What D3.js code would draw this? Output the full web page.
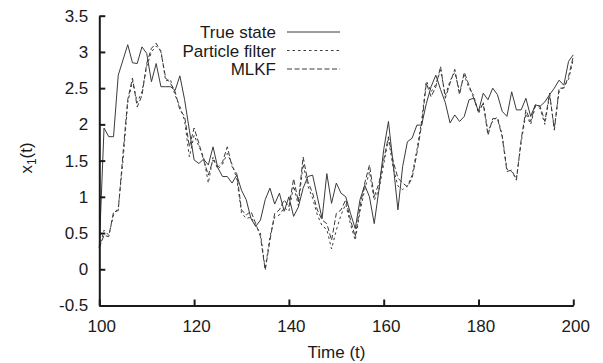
<!DOCTYPE html>
<html>
<head>
<meta charset="utf-8">
<script src="https://cdn.jsdelivr.net/npm/d3@7"></script>
<style>
  body { margin: 0; background: #fff; }
  svg { display: block; font-family: "Liberation Sans", Arial, sans-serif; }
  .axis text { font-size: 17px; fill: #1a1a1a; }
  .axis path, .axis line { stroke: #1a1a1a; stroke-width: 2; }
</style>
</head>
<body>
<div class="chart"></div>
<script>
var tStart = 100, tEnd = 200;

var trueState = [
  0.30, 1.95, 1.83, 1.83, 2.68, 2.89, 3.10, 2.85, 2.84, 3.07,
  2.98, 2.59, 2.84, 2.52, 2.52, 2.52, 2.47, 2.67, 2.34, 1.92,
  1.51, 1.46, 1.52, 1.44, 1.69, 1.40, 1.28, 1.28, 1.19, 1.30,
  1.09, 0.96, 0.70, 0.59, 0.68, 0.96, 1.12, 0.90, 1.05, 0.80,
  1.00, 0.73, 0.86, 1.12, 1.28, 1.30, 1.00, 0.70, 1.32, 0.91,
  1.19, 1.05, 1.00, 0.77, 0.56, 0.96, 1.16, 1.00, 0.63, 1.10,
  1.65, 2.04, 1.45, 0.82, 1.42, 1.76, 1.81, 1.99, 1.99, 2.29,
  2.52, 2.68, 2.48, 2.30, 2.02, 2.13, 2.04, 2.11, 2.34, 2.36,
  2.18, 2.43, 2.34, 2.50, 2.41, 2.18, 2.11, 2.45, 2.20, 2.20,
  2.36, 2.11, 2.27, 2.25, 2.31, 2.41, 2.50, 2.61, 2.54, 2.87,
  2.96
];

var particleFilter = [
  0.30, 0.54, 0.47, 0.75, 0.85, 1.50, 2.30, 2.60, 2.30, 2.45,
  2.80, 3.00, 3.08, 3.02, 2.60, 2.62, 2.40, 2.25, 2.05, 1.55,
  1.85, 1.70, 1.55, 1.19, 1.55, 1.38, 1.45, 1.60, 1.45, 1.25,
  0.78, 0.70, 0.72, 0.60, 0.50, 0.00, 0.45, 0.72, 0.75, 0.85,
  0.80, 1.15, 0.88, 1.45, 1.15, 0.98, 0.75, 0.60, 0.55, 0.28,
  0.54, 0.75, 0.90, 0.62, 0.40, 0.80, 1.10, 1.35, 0.95, 1.10,
  1.45, 1.80, 1.40, 1.15, 1.10, 1.15, 1.30, 1.65, 2.05, 2.60,
  2.45, 2.55, 2.75, 2.40, 2.60, 2.72, 2.45, 2.68, 2.50, 2.40,
  2.15, 2.30, 1.90, 2.05, 2.10, 1.85, 1.38, 1.35, 1.25, 1.75,
  2.15, 2.00, 2.25, 2.22, 2.00, 2.40, 1.95, 2.45, 2.52, 2.62,
  2.90
];

var mlkf = [
  0.30, 0.47, 0.45, 0.79, 0.81, 1.60, 2.34, 2.64, 2.24, 2.40,
  2.84, 3.05, 3.12, 3.00, 2.64, 2.57, 2.45, 2.20, 2.11, 1.69,
  1.95, 1.74, 1.51, 1.30, 1.51, 1.41, 1.48, 1.69, 1.42, 1.32,
  0.82, 0.75, 0.80, 0.63, 0.45, -0.01, 0.40, 0.77, 0.82, 0.96,
  0.86, 1.25, 0.93, 1.55, 1.21, 1.05, 0.82, 0.68, 0.63, 0.40,
  0.77, 0.82, 0.96, 0.68, 0.45, 0.86, 1.19, 1.44, 1.00, 1.19,
  1.51, 1.83, 1.49, 1.26, 1.19, 1.14, 1.26, 1.60, 1.99, 2.57,
  2.38, 2.52, 2.80, 2.36, 2.57, 2.76, 2.41, 2.72, 2.54, 2.36,
  2.18, 2.29, 1.85, 2.08, 2.08, 1.83, 1.35, 1.37, 1.23, 1.79,
  2.20, 2.04, 2.27, 2.25, 2.04, 2.43, 1.92, 2.50, 2.50, 2.66,
  2.94
];

var xTicks = [100, 120, 140, 160, 180, 200];
var yTicks = [-0.5, 0, 0.5, 1, 1.5, 2, 2.5, 3, 3.5];

var seriesNames = ["True state", "Particle filter", "MLKF"];
var seriesDash = [null, "2.5,3", "5,2.5"];

var width = 603, height = 363,
    margin = {top: 15.7, right: 29.7, bottom: 57.5, left: 99.3};

var svg = d3.select(".chart").append("svg")
  .attr("width", width)
  .attr("height", height);

var x = d3.scaleLinear()
  .domain([tStart, tEnd])
  .range([margin.left, width - margin.right]);

var y = d3.scaleLinear()
  .domain([-0.5, 3.5])
  .range([height - margin.bottom, margin.top]);

var line = d3.line()
  .x((d, i) => x(tStart + i))
  .y(d => y(d));

// series
[trueState, particleFilter, mlkf].forEach((s, k) => {
  svg.append("path")
    .datum(s)
    .attr("fill", "none")
    .attr("stroke", "#3a3a3a")
    .attr("stroke-width", 1)
    .attr("stroke-dasharray", seriesDash[k])
    .attr("d", line);
});

// axes, ticks point inward
var xAxis = svg.append("g")
  .attr("class", "axis")
  .attr("transform", `translate(0, ${height - margin.bottom})`)
  .call(d3.axisBottom(x).tickValues(xTicks).tickFormat(d3.format("d"))
    .tickSizeInner(-6).tickSizeOuter(0).tickPadding(14));
xAxis.selectAll("text").attr("dx", 2);

svg.append("g")
  .attr("class", "axis")
  .attr("transform", `translate(${margin.left}, 0)`)
  .call(d3.axisLeft(y).tickValues(yTicks).tickFormat(d => d)
    .tickSizeInner(-6).tickSizeOuter(0).tickPadding(11));

svg.selectAll(".axis text").attr("font-family", null);

// axis titles
svg.append("text")
  .attr("x", 336.5)
  .attr("y", 358)
  .attr("text-anchor", "middle")
  .attr("font-size", 17)
  .attr("fill", "#1a1a1a")
  .text("Time (t)");

var yl = svg.append("text")
  .attr("transform", "translate(32, 158) rotate(-90)")
  .attr("text-anchor", "middle")
  .attr("font-size", 17)
  .attr("fill", "#1a1a1a");
yl.append("tspan").text("x");
yl.append("tspan").attr("font-size", 12).attr("dy", 4).text("1");
yl.append("tspan").attr("dy", -4).text("(t)");

// legend
var legend = svg.append("g");
seriesNames.forEach((name, k) => {
  var ly = 32 + k * 18.5;
  legend.append("text")
    .attr("x", 276)
    .attr("y", ly + 6)
    .attr("text-anchor", "end")
    .attr("font-size", 17)
    .attr("fill", "#1a1a1a")
    .text(name);
  legend.append("line")
    .attr("x1", 287).attr("x2", 340)
    .attr("y1", ly).attr("y2", ly)
    .attr("stroke", "#3a3a3a")
    .attr("stroke-width", 1)
    .attr("stroke-dasharray", seriesDash[k]);
});
</script>
</body>
</html>
